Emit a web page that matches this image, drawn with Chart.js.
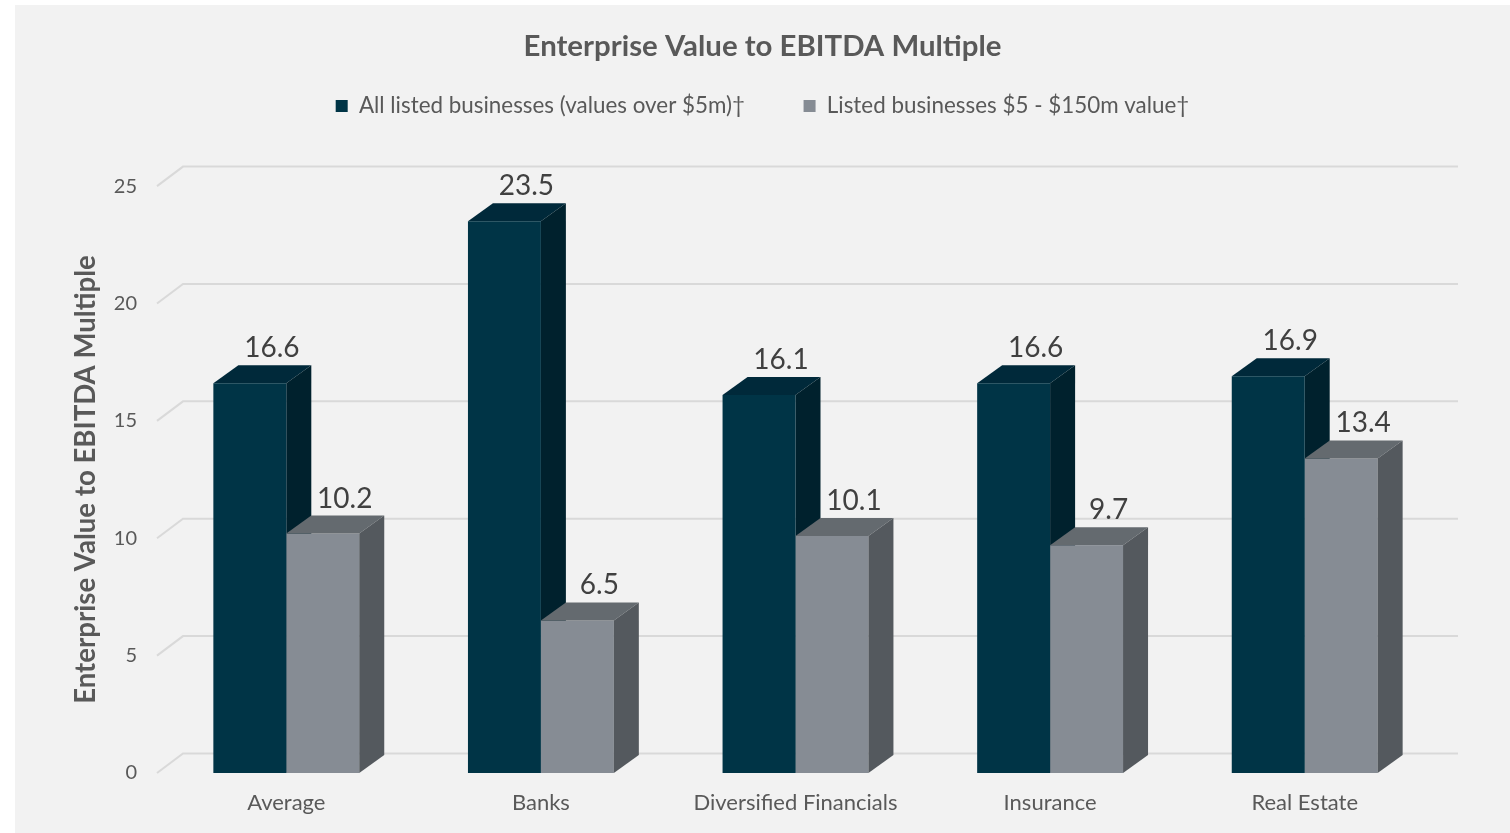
<!doctype html>
<html>

<head>
  <title>Enterprise Value to EBITDA Multiple</title>
  <script src="https://cdn.jsdelivr.net/npm/chart.js@4.4.1/dist/chart.umd.min.js"></script>
</head>
<style>
  body {
    margin: 0;
    background: #ffffff;
  }

  .chartContainer {
    width: 1510px;
    height: 833px;
  }
</style>

<body>
  <div class="chartContainer">
    <canvas id="evChartId" width="1510" height="833"></canvas>
  </div>
  <script>
    var categories = ["Average", "Banks", "Diversified Financials", "Insurance", "Real Estate"];
    var allListed = [16.6, 23.5, 16.1, 16.6, 16.9];
    var smallListed = [10.2, 6.5, 10.1, 9.7, 13.4];
    var yTicks = [0, 5, 10, 15, 20, 25];
    var seriesNames = ["All listed businesses (values over $5m)†", "Listed businesses $5 - $150m value†"];

    // fake 3d depth, pixels
    var depthX = 25, depthY = -18, gridDepthY = -19.5;
    var faceColors = [
      { top: "#00293a", side: "#00212d" },
      { top: "#646a6f", side: "#54595e" }
    ];

    function drawFaces(chart, index) {
      var ctx = chart.ctx, shades = faceColors[index];
      ctx.save();
      chart.getDatasetMeta(index).data.forEach(function (bar) {
        var p = bar.getProps(['x', 'y', 'base', 'width'], true);
        var l = p.x - p.width / 2, r = p.x + p.width / 2;
        // top face
        ctx.fillStyle = shades.top;
        ctx.beginPath();
        ctx.moveTo(l, p.y);
        ctx.lineTo(l + depthX, p.y + depthY);
        ctx.lineTo(r + depthX, p.y + depthY);
        ctx.lineTo(r, p.y);
        ctx.closePath();
        ctx.fill();
        // right side face
        ctx.fillStyle = shades.side;
        ctx.beginPath();
        ctx.moveTo(r, p.y);
        ctx.lineTo(r + depthX, p.y + depthY);
        ctx.lineTo(r + depthX, p.base + depthY);
        ctx.lineTo(r, p.base);
        ctx.closePath();
        ctx.fill();
      });
      ctx.restore();
    }

    var bar3d = {
      id: 'bar3d',
      beforeDraw: function (chart) {
        var ctx = chart.ctx;
        ctx.save();
        ctx.fillStyle = "#ffffff";
        ctx.fillRect(0, 0, chart.width, chart.height);
        ctx.fillStyle = "#f2f2f2";
        ctx.fillRect(15, 5, chart.width - 15, chart.height - 5);
        ctx.restore();
      },
      beforeDatasetsDraw: function (chart) {
        var ctx = chart.ctx, yScale = chart.scales.y, area = chart.chartArea;
        ctx.save();
        ctx.strokeStyle = "#d9d9d9";
        ctx.lineWidth = 2;
        yScale.ticks.forEach(function (t) {
          var py = yScale.getPixelForValue(t.value);
          ctx.beginPath();
          ctx.moveTo(area.left - 2, py);
          ctx.lineTo(area.left - 1 + depthX, py + gridDepthY);
          ctx.lineTo(area.right + depthX + 1, py + gridDepthY);
          ctx.stroke();
        });
        ctx.restore();
        // back bar's sides go under the front faces of the grey bars
        drawFaces(chart, 0);
      },
      afterDatasetsDraw: function (chart) {
        drawFaces(chart, 1);
        var ctx = chart.ctx;
        ctx.save();
        ctx.fillStyle = "#404040";
        ctx.font = "28px Lato";
        ctx.textAlign = "center";
        ctx.textBaseline = "alphabetic";
        chart.data.datasets.forEach(function (ds, i) {
          chart.getDatasetMeta(i).data.forEach(function (bar, j) {
            var p = bar.getProps(['x', 'y'], true);
            ctx.fillText(ds.data[j].toFixed(1), p.x + 22, p.y - 26);
          });
        });
        ctx.restore();
      }
    };

    Chart.defaults.font.family = "Lato";
    Chart.defaults.color = "#595959";

    var ctx = document.getElementById("evChartId").getContext('2d');
    var evChart = new Chart(ctx, {
      type: 'bar',
      data: {
        labels: categories,
        datasets: [{
          label: seriesNames[0],
          data: allListed,
          backgroundColor: "#003446",
          borderWidth: 0
        }, {
          label: seriesNames[1],
          data: smallListed,
          backgroundColor: "#868c94",
          borderWidth: 0
        }]
      },
      options: {
        responsive: false,
        animation: false,
        layout: { padding: { left: 15, right: 0, top: 0, bottom: 0 } },
        datasets: {
          bar: { categoryPercentage: 0.573, barPercentage: 1.0 }
        },
        plugins: {
          title: {
            display: true,
            text: "Enterprise Value to EBITDA Multiple",
            color: "#595959",
            font: { size: 29.4, weight: 'bold' },
            padding: { top: 28.4, bottom: 6.2 }
          },
          legend: {
            weight: 1800,
            labels: {
              boxWidth: 12,
              boxHeight: 12,
              padding: 25,
              color: "#595959",
              font: { size: 22.4 },
              generateLabels: function (chart) {
                var items = Chart.defaults.plugins.legend.labels.generateLabels(chart);
                items.forEach(function (it) {
                  if (it.datasetIndex === 0) it.text = it.text + "\u2003\u2003";
                });
                return items;
              }
            }
          },
          // blank gap between legend and the plot
          subtitle: {
            display: true,
            text: "",
            font: { size: 1, lineHeight: 0 },
            padding: { top: 58.8, bottom: 0 }
          },
          tooltip: { enabled: false }
        },
        scales: {
          x: {
            grid: { display: false, drawTicks: false },
            border: { display: false },
            ticks: { color: "#595959", font: { size: 22 }, padding: 16.8 },
            afterFit: function (scale) { scale.height = 60; }
          },
          y: {
            min: 0,
            max: 25,
            grid: { display: false, drawTicks: false },
            border: { display: false },
            afterBuildTicks: function (scale) {
              scale.ticks = yTicks.map(function (v) { return { value: v }; });
            },
            ticks: { color: "#595959", font: { size: 20 }, padding: 22 },
            title: {
              display: true,
              text: "Enterprise Value to EBITDA Multiple",
              color: "#595959",
              font: { size: 27.6, weight: 'bold' },
              padding: { top: 54.4, bottom: 0 }
            },
            afterFit: function (scale) { scale.width = 144; }
          },
          // empty right axis, only keeps room for the bar depth
          yRight: {
            position: 'right',
            grid: { display: false, drawTicks: false },
            border: { display: false },
            ticks: { display: false },
            afterFit: function (scale) { scale.width = 78; }
          }
        }
      },
      plugins: [bar3d]
    });
  </script>
</body>

</html>
